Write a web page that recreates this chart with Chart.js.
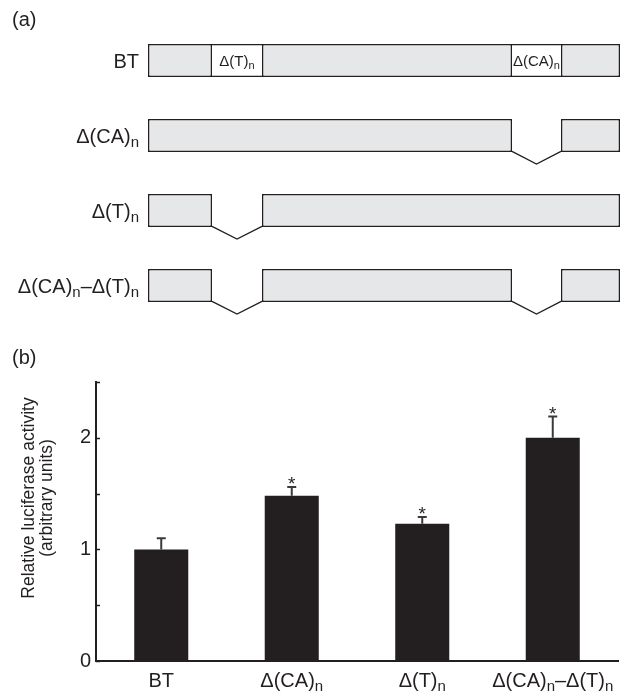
<!DOCTYPE html>
<html>
<head>
<meta charset="utf-8">
<script src="https://cdn.jsdelivr.net/npm/chart.js@4.4.0/dist/chart.umd.min.js"></script>
<style>
  html, body { margin: 0; padding: 0; background: #fff; }
  #wrap { position: relative; width: 624px; height: 694px; }
  canvas { position: absolute; left: 0; }
  #constructs { top: 0; }
  #activity { top: 330px; }
</style>
</head>
<body>
<div id="wrap">
  <canvas id="constructs" width="624" height="330"></canvas>
  <canvas id="activity" width="624" height="364"></canvas>
</div>
<script>
const FAMILY = '"Liberation Sans", Arial, Helvetica, sans-serif';
const INK = '#231f20';
const GRAY = '#e6e7e8';

// (a) constructs, positions along the construct in arbitrary units
const constructs = ['BT', 'Δ(CA)_n', 'Δ(T)_n', 'Δ(CA)_n–Δ(T)_n'];
const box1 = [[0, 64], [0, 364], [0, 64], [0, 64]];
const box2 = [[114, 364], [413, 472], [114, 472], [114, 364]];
const box3 = [[413, 472], null, null, [413, 472]];
const repeatT = [[64, 114], null, null, null];
const repeatCA = [[364, 413], null, null, null];
const deletedT = [null, null, [64, 114], [64, 114]];
const deletedCA = [null, [364, 413], null, [364, 413]];
const repeatLabels = ['Δ(T)_n', 'Δ(CA)_n'];

// (b) luciferase activity
const variants = ['BT', 'Δ(CA)_n', 'Δ(T)_n', 'Δ(CA)_n–Δ(T)_n'];
const activity = [1.0, 1.48, 1.23, 2.0];
const activityErr = [0.10, 0.08, 0.06, 0.19];
const significant = [false, true, true, true];
const yTicks = [0, 0.5, 1, 1.5, 2, 2.5];
const yTickText = ['0', '', '1', '', '2', ''];

// draws text where "_n" becomes a subscript n
function drawRich(ctx, str, x, y, align, size, subSize) {
  const parts = str.split(/(_n)/).filter(Boolean);
  const widths = parts.map(p => {
    ctx.font = (p === '_n' ? subSize : size) + 'px ' + FAMILY;
    return ctx.measureText(p === '_n' ? 'n' : p).width;
  });
  const total = widths.reduce((a, b) => a + b, 0);
  let cx = align === 'right' ? x - total : align === 'center' ? x - total / 2 : x;
  ctx.textAlign = 'left';
  ctx.textBaseline = 'alphabetic';
  parts.forEach((p, k) => {
    const sub = p === '_n';
    ctx.font = (sub ? subSize : size) + 'px ' + FAMILY;
    ctx.fillText(sub ? 'n' : p, cx, sub ? y + size * 0.22 : y);
    cx += widths[k];
  });
}

const grayBox = {
  backgroundColor: GRAY, borderColor: INK, borderWidth: 1.5,
  borderSkipped: false, grouped: false, barPercentage: 0.44, categoryPercentage: 1
};
const whiteBox = {
  backgroundColor: '#ffffff', borderColor: INK,
  borderWidth: { top: 1.5, bottom: 1.5, left: 0, right: 0 },
  borderSkipped: false, grouped: false, barPercentage: 0.44, categoryPercentage: 1
};

const constructPlugin = {
  id: 'constructPlugin',
  afterDatasetsDraw(chart) {
    const ctx = chart.ctx;
    const xs = chart.scales.x, ys = chart.scales.y;
    const half = 16.5;
    ctx.save();
    ctx.fillStyle = INK;
    constructs.forEach((c, i) => {
      const y = ys.getPixelForValue(i);
      drawRich(ctx, c, 139, y + 7, 'right', 20, 15);
      [repeatT[i], repeatCA[i]].forEach((r, k) => {
        if (!r) return;
        const mid = (xs.getPixelForValue(r[0]) + xs.getPixelForValue(r[1])) / 2;
        drawRich(ctx, repeatLabels[k], mid, y + 5, 'center', 15, 11);
      });
      [deletedT[i], deletedCA[i]].forEach(d => {
        if (!d) return;
        const x0 = xs.getPixelForValue(d[0]), x1 = xs.getPixelForValue(d[1]);
        ctx.strokeStyle = INK;
        ctx.lineWidth = 1.3;
        ctx.beginPath();
        ctx.moveTo(x0, y + half - 0.7);
        ctx.lineTo((x0 + x1) / 2, y + half + 12);
        ctx.lineTo(x1, y + half - 0.7);
        ctx.stroke();
      });
    });
    ctx.font = '20px ' + FAMILY;
    ctx.textAlign = 'left';
    ctx.fillText('(a)', 12, 26);
    ctx.restore();
  }
};

new Chart(document.getElementById('constructs'), {
  type: 'bar',
  data: {
    labels: constructs,
    datasets: [
      Object.assign({ data: box1 }, grayBox),
      Object.assign({ data: box2 }, grayBox),
      Object.assign({ data: box3 }, grayBox),
      Object.assign({ data: repeatT }, whiteBox),
      Object.assign({ data: repeatCA }, whiteBox)
    ]
  },
  options: {
    indexAxis: 'y',
    responsive: false,
    animation: false,
    events: [],
    layout: { padding: { left: 148, right: 4, top: 23, bottom: 7 } },
    scales: {
      x: { type: 'linear', min: 0, max: 472, display: false },
      y: { display: false }
    },
    plugins: { legend: { display: false }, tooltip: { enabled: false } }
  },
  plugins: [constructPlugin]
});

const activityPlugin = {
  id: 'activityPlugin',
  afterDatasetsDraw(chart) {
    const ctx = chart.ctx;
    const ys = chart.scales.y;
    const area = chart.chartArea;
    const bars = chart.getDatasetMeta(0).data;
    ctx.save();
    // inward tick marks
    ctx.strokeStyle = INK;
    ctx.lineWidth = 1.5;
    yTicks.forEach(v => {
      const y = Math.round(ys.getPixelForValue(v)) + 0.5;
      ctx.beginPath();
      ctx.moveTo(area.left, y);
      ctx.lineTo(area.left + 4, y);
      ctx.stroke();
    });
    // error bars and asterisks
    activity.forEach((v, i) => {
      const x = bars[i].x;
      const top = ys.getPixelForValue(v + activityErr[i]);
      const base = ys.getPixelForValue(v);
      ctx.strokeStyle = '#3a3a3a';
      ctx.lineWidth = 2;
      ctx.beginPath();
      ctx.moveTo(x, base);
      ctx.lineTo(x, top);
      ctx.moveTo(x - 4.5, top);
      ctx.lineTo(x + 4.5, top);
      ctx.stroke();
      if (significant[i]) {
        ctx.fillStyle = INK;
        ctx.font = '19px ' + FAMILY;
        ctx.textAlign = 'center';
        ctx.textBaseline = 'alphabetic';
        ctx.fillText('*', x, top + 3);
      }
    });
    // category labels
    ctx.fillStyle = INK;
    variants.forEach((c, i) => {
      drawRich(ctx, c, bars[i].x, 357, 'center', 20, 15);
    });
    // axis title
    ctx.font = '17.5px ' + FAMILY;
    ctx.textAlign = 'center';
    ctx.textBaseline = 'alphabetic';
    ctx.save();
    ctx.translate(34, 168);
    ctx.rotate(-Math.PI / 2);
    ctx.fillText('Relative luciferase activity', 0, 0);
    ctx.restore();
    ctx.save();
    ctx.translate(52, 168);
    ctx.rotate(-Math.PI / 2);
    ctx.fillText('(arbitrary units)', 0, 0);
    ctx.restore();
    ctx.font = '20px ' + FAMILY;
    ctx.textAlign = 'left';
    ctx.fillText('(b)', 12, 34);
    ctx.restore();
  }
};

new Chart(document.getElementById('activity'), {
  type: 'bar',
  data: {
    labels: variants,
    datasets: [{
      data: activity,
      backgroundColor: INK,
      borderWidth: 0,
      barPercentage: 0.414,
      categoryPercentage: 1
    }]
  },
  options: {
    responsive: false,
    animation: false,
    events: [],
    layout: { padding: { left: 0, right: 6, top: 52, bottom: 0 } },
    scales: {
      x: {
        grid: { display: false, drawTicks: false },
        border: { display: true, color: INK, width: 2 },
        ticks: { display: false },
        afterFit: s => { s.height = 33; }
      },
      y: {
        min: 0,
        max: 2.5,
        afterBuildTicks: s => { s.ticks = yTicks.map(v => ({ value: v })); },
        ticks: {
          callback: (v, i) => yTickText[i],
          font: { size: 20, family: FAMILY },
          color: INK,
          padding: 5
        },
        grid: { display: false, drawTicks: false },
        border: { display: true, color: INK, width: 2 },
        afterFit: s => { s.width = 96; }
      }
    },
    plugins: { legend: { display: false }, tooltip: { enabled: false } }
  },
  plugins: [activityPlugin]
});
</script>
</body>
</html>
